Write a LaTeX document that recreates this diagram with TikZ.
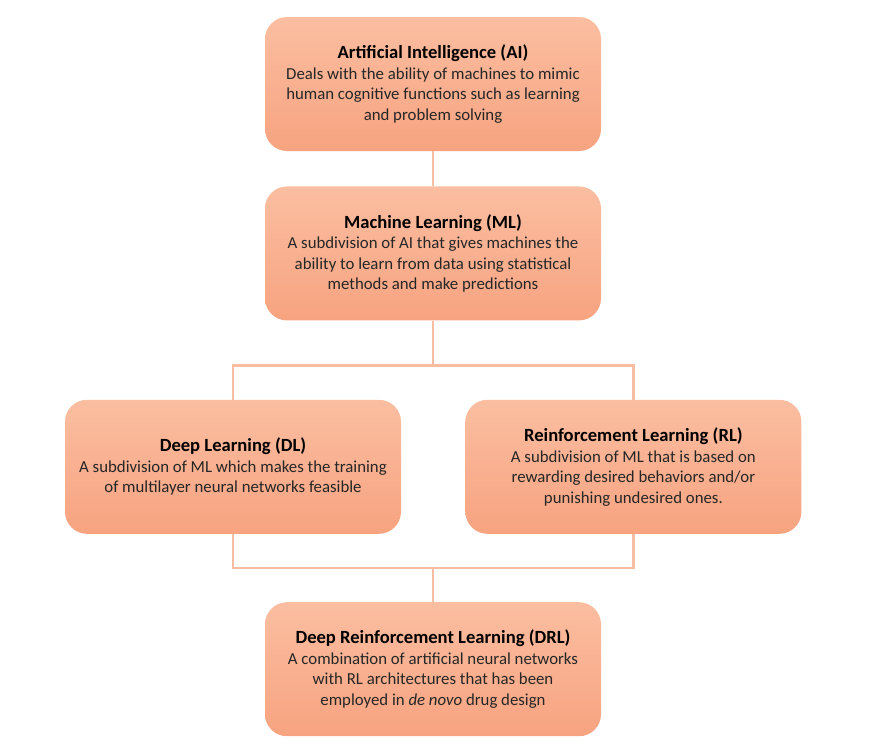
\documentclass[tikz,border=0pt]{standalone}
\usepackage{xcolor}
\usepackage{fontspec}
\usepackage{tikz}
\usetikzlibrary{positioning}
\setmainfont{Carlito}

\definecolor{garis}{RGB}{249,190,162}
\definecolor{atas}{RGB}{251,190,161}
\definecolor{bawah}{RGB}{247,163,128}
\definecolor{isi}{RGB}{38,38,38}

\tikzset{
  kotak/.style={rectangle, rounded corners=22pt, top color=atas, bottom color=bawah,
    draw=none, minimum width=336pt, minimum height=134pt, align=center,
    inner sep=0pt, font=\fontsize{16.8}{20.5}\selectfont, text=isi},
  sambung/.style={draw=garis, line width=2.6pt}
}
\newcommand{\judul}[1]{{\fontsize{18.6}{21}\selectfont\bfseries\color{black}#1}}

\begin{document}
\begin{tikzpicture}[x=1pt,y=-1pt]
				\useasboundingbox (0,0) rectangle (874,747);
				% definisi untuk node
				\node (ai) [kotak] at (433,84) {\judul{Artificial Intelligence (AI)}\\
				  Deals with the ability of machines to mimic\\
				  human cognitive functions such as learning\\
				  and problem solving};                                  % posisi acuan
				\node (ml) [kotak, below=35pt of ai] {\judul{Machine Learning (ML)}\\
				  A subdivision of AI that gives machines the\\
				  ability to learn from data using statistical\\
				  methods and make predictions};                         % di bawah acuan
				\node (dl) [kotak, below=79pt of ml, xshift=-200pt] {\judul{Deep Learning (DL)}\\
				  A subdivision of ML which makes the training\\
				  of multilayer neural networks feasible};               % kiri bawah
				\node (rl) [kotak, right=64pt of dl] {\judul{Reinforcement Learning (RL)}\\
				  A subdivision of ML that is based on\\
				  rewarding desired behaviors and/or\\
				  punishing undesired ones.};                            % di kanan sebelumnya
				\node (drl) [kotak, below=68pt of dl, xshift=200pt] {\judul{Deep Reinforcement Learning (DRL)}\\
				  A combination of artificial neural networks\\
				  with RL architectures that has been\\
				  employed in \textit{de novo} drug design};               % paling bawah

				% titik cabang
				\coordinate [below=45pt of ml] (cabang);
				\coordinate [above=34pt of drl] (gabung);

				% menggambar garis koneksi
				\draw [sambung] (ai) -- (ml);
				\draw [sambung] (ml) -- (cabang);
				\draw [sambung] (dl.north) |- (cabang) -| (rl.north);
				\draw [sambung] (dl.south) |- (gabung) -| (rl.south);
				\draw [sambung] (gabung) -- (drl);
			\end{tikzpicture}
\end{document}
